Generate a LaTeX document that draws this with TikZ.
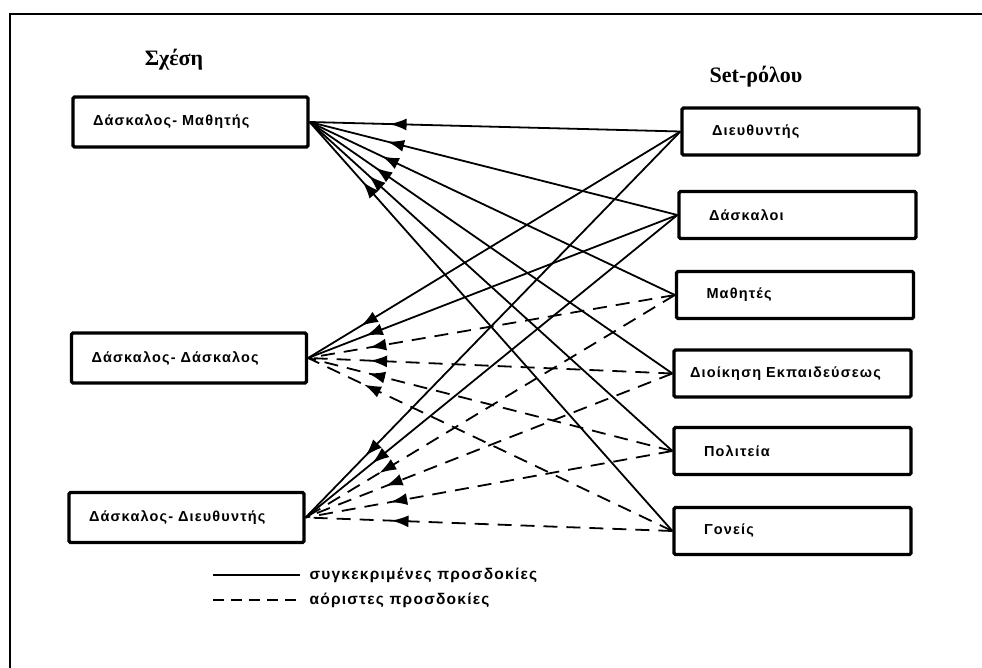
\documentclass[tikz,border=0pt]{standalone}
\usepackage{fontspec}
\setmainfont{Liberation Sans}
\newfontfamily\titlefont{Liberation Serif}
\newfontfamily\spacedfont[LetterSpace=8]{Liberation Sans}
\usetikzlibrary{arrows.meta,calc}
\begin{document}
\begin{tikzpicture}[x=1pt,y=-1pt,
  boxbase/.style={draw,line width=3.2pt,rounded corners=1.5pt,align=left,
    font=\spacedfont\bfseries\fontsize{14.5}{16}\selectfont},
  lbox/.style={boxbase,minimum height=50pt,inner xsep=20pt,text width=195pt},
  rbox/.style={boxbase,minimum height=47pt,inner xsep=30pt,text width=177pt},
  widebox/.style={boxbase,minimum height=47pt,inner xsep=16pt,text width=205pt},
  conline/.style={line width=1.8pt},
  dashline/.style={conline,dash pattern=on 14pt off 9pt},
  arr/.style={line width=1.8pt,solid,-{Latex[length=17pt,width=12pt]}},
  ttl/.style={font=\titlefont\bfseries\fontsize{22}{24}\selectfont},
  legtext/.style={anchor=west,font=\spacedfont\bfseries\fontsize{15.5}{18}\selectfont}]
\useasboundingbox (0,0) rectangle (982,668);
% frame
\draw[line width=2.2pt] (982,14) -- (10,14) -- (10,668);
% titles
\node[ttl] (t1) at (174,60) {Σχέση};
\node[ttl] (t2) at (756,77) {Set-ρόλου};
% left boxes
\node[lbox] (L1) at (190.5,122) {Δάσκαλος- Μαθητής};
\node[lbox] (L2) at (189,358) {Δάσκαλος- Δάσκαλος};
\node[lbox] (L3) at (186.5,517.5) {Δάσκαλος- Διευθυντής};
% right boxes
\node[rbox] (R1) at (800.5,131.5) {Διευθυντής};
\node[rbox] (R2) at (797.5,215) {Δάσκαλοι};
\node[rbox] (R3) at (795,295) {Μαθητές};
\node[widebox] (R4) at (792.5,373.5) {Διοίκηση Εκπαιδεύσεως};
\node[rbox] (R5) at (792.5,451) {Πολιτεία};
\node[rbox] (R6) at (792.5,531) {Γονείς};
% connectors
\foreach \r/\l/\a/\b/\s in {
  R1/L1/97/80/conline, R2/L1/97/80/conline, R3/L1/97/80/conline,
  R4/L1/97/80/conline, R5/L1/97/80/conline, R6/L1/97/80/conline,
  R1/L2/79/62/conline, R2/L2/79/62/conline, R3/L2/79/62/dashline,
  R4/L2/79/62/dashline, R5/L2/79/62/dashline, R6/L2/79/62/dashline,
  R1/L3/103/86/conline, R2/L3/103/86/conline, R3/L3/103/86/dashline,
  R4/L3/103/86/dashline, R5/L3/103/86/dashline, R6/L3/103/86/dashline}{
  \draw[\s] (\r.west) -- (\l.east);
  \draw[arr] ($(\l.east)!\a pt!(\r.west)$) -- ($(\l.east)!\b pt!(\r.west)$);
}
% legend
\coordinate (s1) at (213,575);
\coordinate (s2) at (300,575);
\coordinate (d1) at (213,600);
\coordinate (d2) at (300,600);
\draw[conline] (s1) -- (s2);
\draw[dashline,dash pattern=on 11pt off 7pt] (d1) -- (d2);
\node[legtext] (lg1) at (306,575) {συγκεκριμένες προσδοκίες};
\node[legtext] (lg2) at (306,600) {αόριστες προσδοκίες};
\end{tikzpicture}
\end{document}
